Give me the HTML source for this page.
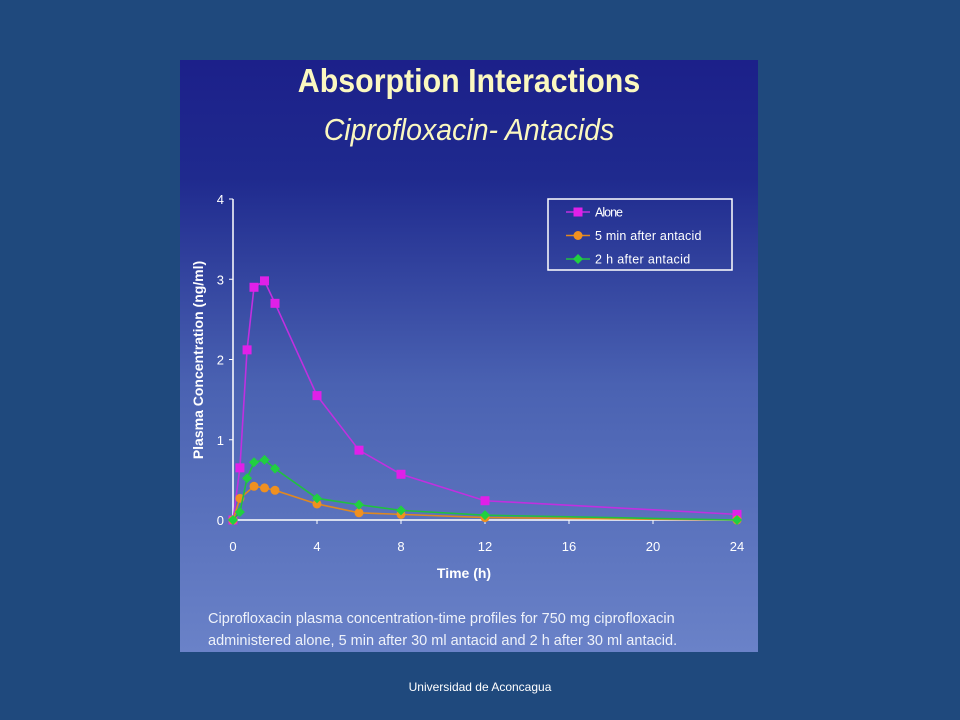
<!DOCTYPE html>
<html><head><meta charset="utf-8"><style>
body{margin:0;width:960px;height:720px;background:#1f497d;position:relative;overflow:hidden;font-family:"Liberation Sans",sans-serif}
#panel{position:absolute;left:180px;top:60px;width:578px;height:592px;background:linear-gradient(#1c208a 0%,#1f2a8e 20%,#4a62b2 55%,#6a82c8 100%)}
.t{position:absolute;width:100%;text-align:center;color:#fbf8c0}
#foot{position:absolute;left:0;width:960px;top:680px;text-align:center;color:#fff;font-size:12px}
</style></head><body>
<div id="panel">
<div class="t" style="top:2px;font-size:33px;font-weight:bold;transform:scaleX(0.92)">Absorption Interactions</div>
<div class="t" style="top:52px;font-size:31px;font-style:italic;transform:scaleX(0.92)">Ciprofloxacin- Antacids</div>
<div style="position:absolute;left:28px;top:548px;color:#eef2fa;font-size:14.5px;line-height:22px;white-space:nowrap">Ciprofloxacin plasma concentration-time profiles for 750 mg ciprofloxacin<br>administered alone, 5 min after 30 ml antacid and 2 h after 30 ml antacid.</div>
</div>
<svg id="chart" width="960" height="720" style="position:absolute;left:0;top:0"></svg>
<div id="foot">Universidad de Aconcagua</div>
<script>
const xTicks=[0,4,8,12,16,20,24];
const yTicks=[0,1,2,3,4];
const seriesNames=["Alone","5 min after antacid","2 h after antacid"];
const aloneX=[0,0.33,0.67,1,1.5,2,4,6,8,12,24];
const aloneY=[0,0.65,2.12,2.9,2.98,2.7,1.55,0.87,0.57,0.24,0.07];
const fiveX=[0,0.33,1,1.5,2,4,6,8,12,24];
const fiveY=[0,0.27,0.42,0.4,0.37,0.2,0.09,0.07,0.03,0.0];
const twoX=[0,0.33,0.67,1,1.5,2,4,6,8,12,24];
const twoY=[0,0.1,0.52,0.72,0.75,0.64,0.27,0.19,0.12,0.06,0.0];
const NS="http://www.w3.org/2000/svg";
const svg=document.getElementById('chart');
const X=v=>233+v*21, Y=v=>520-v*80.25;
function mk(t,a,p){const e=document.createElementNS(NS,t);for(const k in a)e.setAttribute(k,a[k]);(p||svg).appendChild(e);return e;}
const ax=mk('g',{});


mk('line',{x1:X(0),y1:Y(4),x2:X(0),y2:Y(0),stroke:'#fff','stroke-width':1.5},ax);
mk('line',{x1:X(0),y1:Y(0),x2:X(24),y2:Y(0),stroke:'#fff','stroke-width':1.5},ax);
yTicks.forEach(v=>{mk('line',{x1:X(0)-4,x2:X(0),y1:Y(v),y2:Y(v),stroke:'#fff'},ax);
const t=mk('text',{x:X(0)-9,y:Y(v)+5,fill:'#fff','font-size':13,'text-anchor':'end'},ax);t.textContent=v;
});
xTicks.forEach(v=>{mk('line',{x1:X(v),x2:X(v),y1:Y(0),y2:Y(0)+4,stroke:'#fff'},ax);
const t=mk('text',{x:X(v),y:Y(0)+31,fill:'#fff','font-size':13,'text-anchor':'middle'},ax);t.textContent=v;
});
const xt=mk('text',{x:X(11),y:578,fill:'#fff','font-size':14,'font-weight':'bold','text-anchor':'middle'});xt.textContent='Time (h)';

const yt=mk('text',{x:0,y:0,fill:'#fff','font-size':14,'font-weight':'bold','text-anchor':'middle',transform:'translate(203,360) rotate(-90)'});yt.textContent='Plasma Concentration (ng/ml)';

const cols=['#e020e8','#f09020','#20d040'],lc=['#c030e0','#e08820','#20c040'];
function marker(g,shape,x,y,c){if(shape==0)mk('rect',{x:x-4.5,y:y-4.5,width:9,height:9,fill:c},g);
else if(shape==1)mk('circle',{cx:x,cy:y,r:4.5,fill:c},g);
else mk('polygon',{points:`${x},${y-5} ${x+5},${y} ${x},${y+5} ${x-5},${y}`,fill:c},g);}
[[aloneX,aloneY],[fiveX,fiveY],[twoX,twoY]].forEach((s,i)=>{
const g=mk('g',{});


mk('polyline',{points:s[0].map((x,j)=>X(x)+','+Y(s[1][j])).join(' '),fill:'none',stroke:lc[i],'stroke-width':1.6},g);
s[0].forEach((x,j)=>marker(g,i,X(x),Y(s[1][j]),cols[i]));});
const lg=mk('g',{});


mk('rect',{x:548,y:199,width:184,height:71,fill:'none',stroke:'#fff','stroke-width':1.5},lg);
seriesNames.forEach((n,i)=>{const y=212+i*23.5;
mk('line',{x1:566,x2:590,y1:y,y2:y,stroke:lc[i],'stroke-width':1.6},lg);marker(lg,i,578,y,cols[i]);
const t=mk('text',{x:595,y:y+4.5,fill:'#fff','font-size':12.5,textLength:n.length*5.6},lg);t.textContent=n;
});
</script>
</body></html>
